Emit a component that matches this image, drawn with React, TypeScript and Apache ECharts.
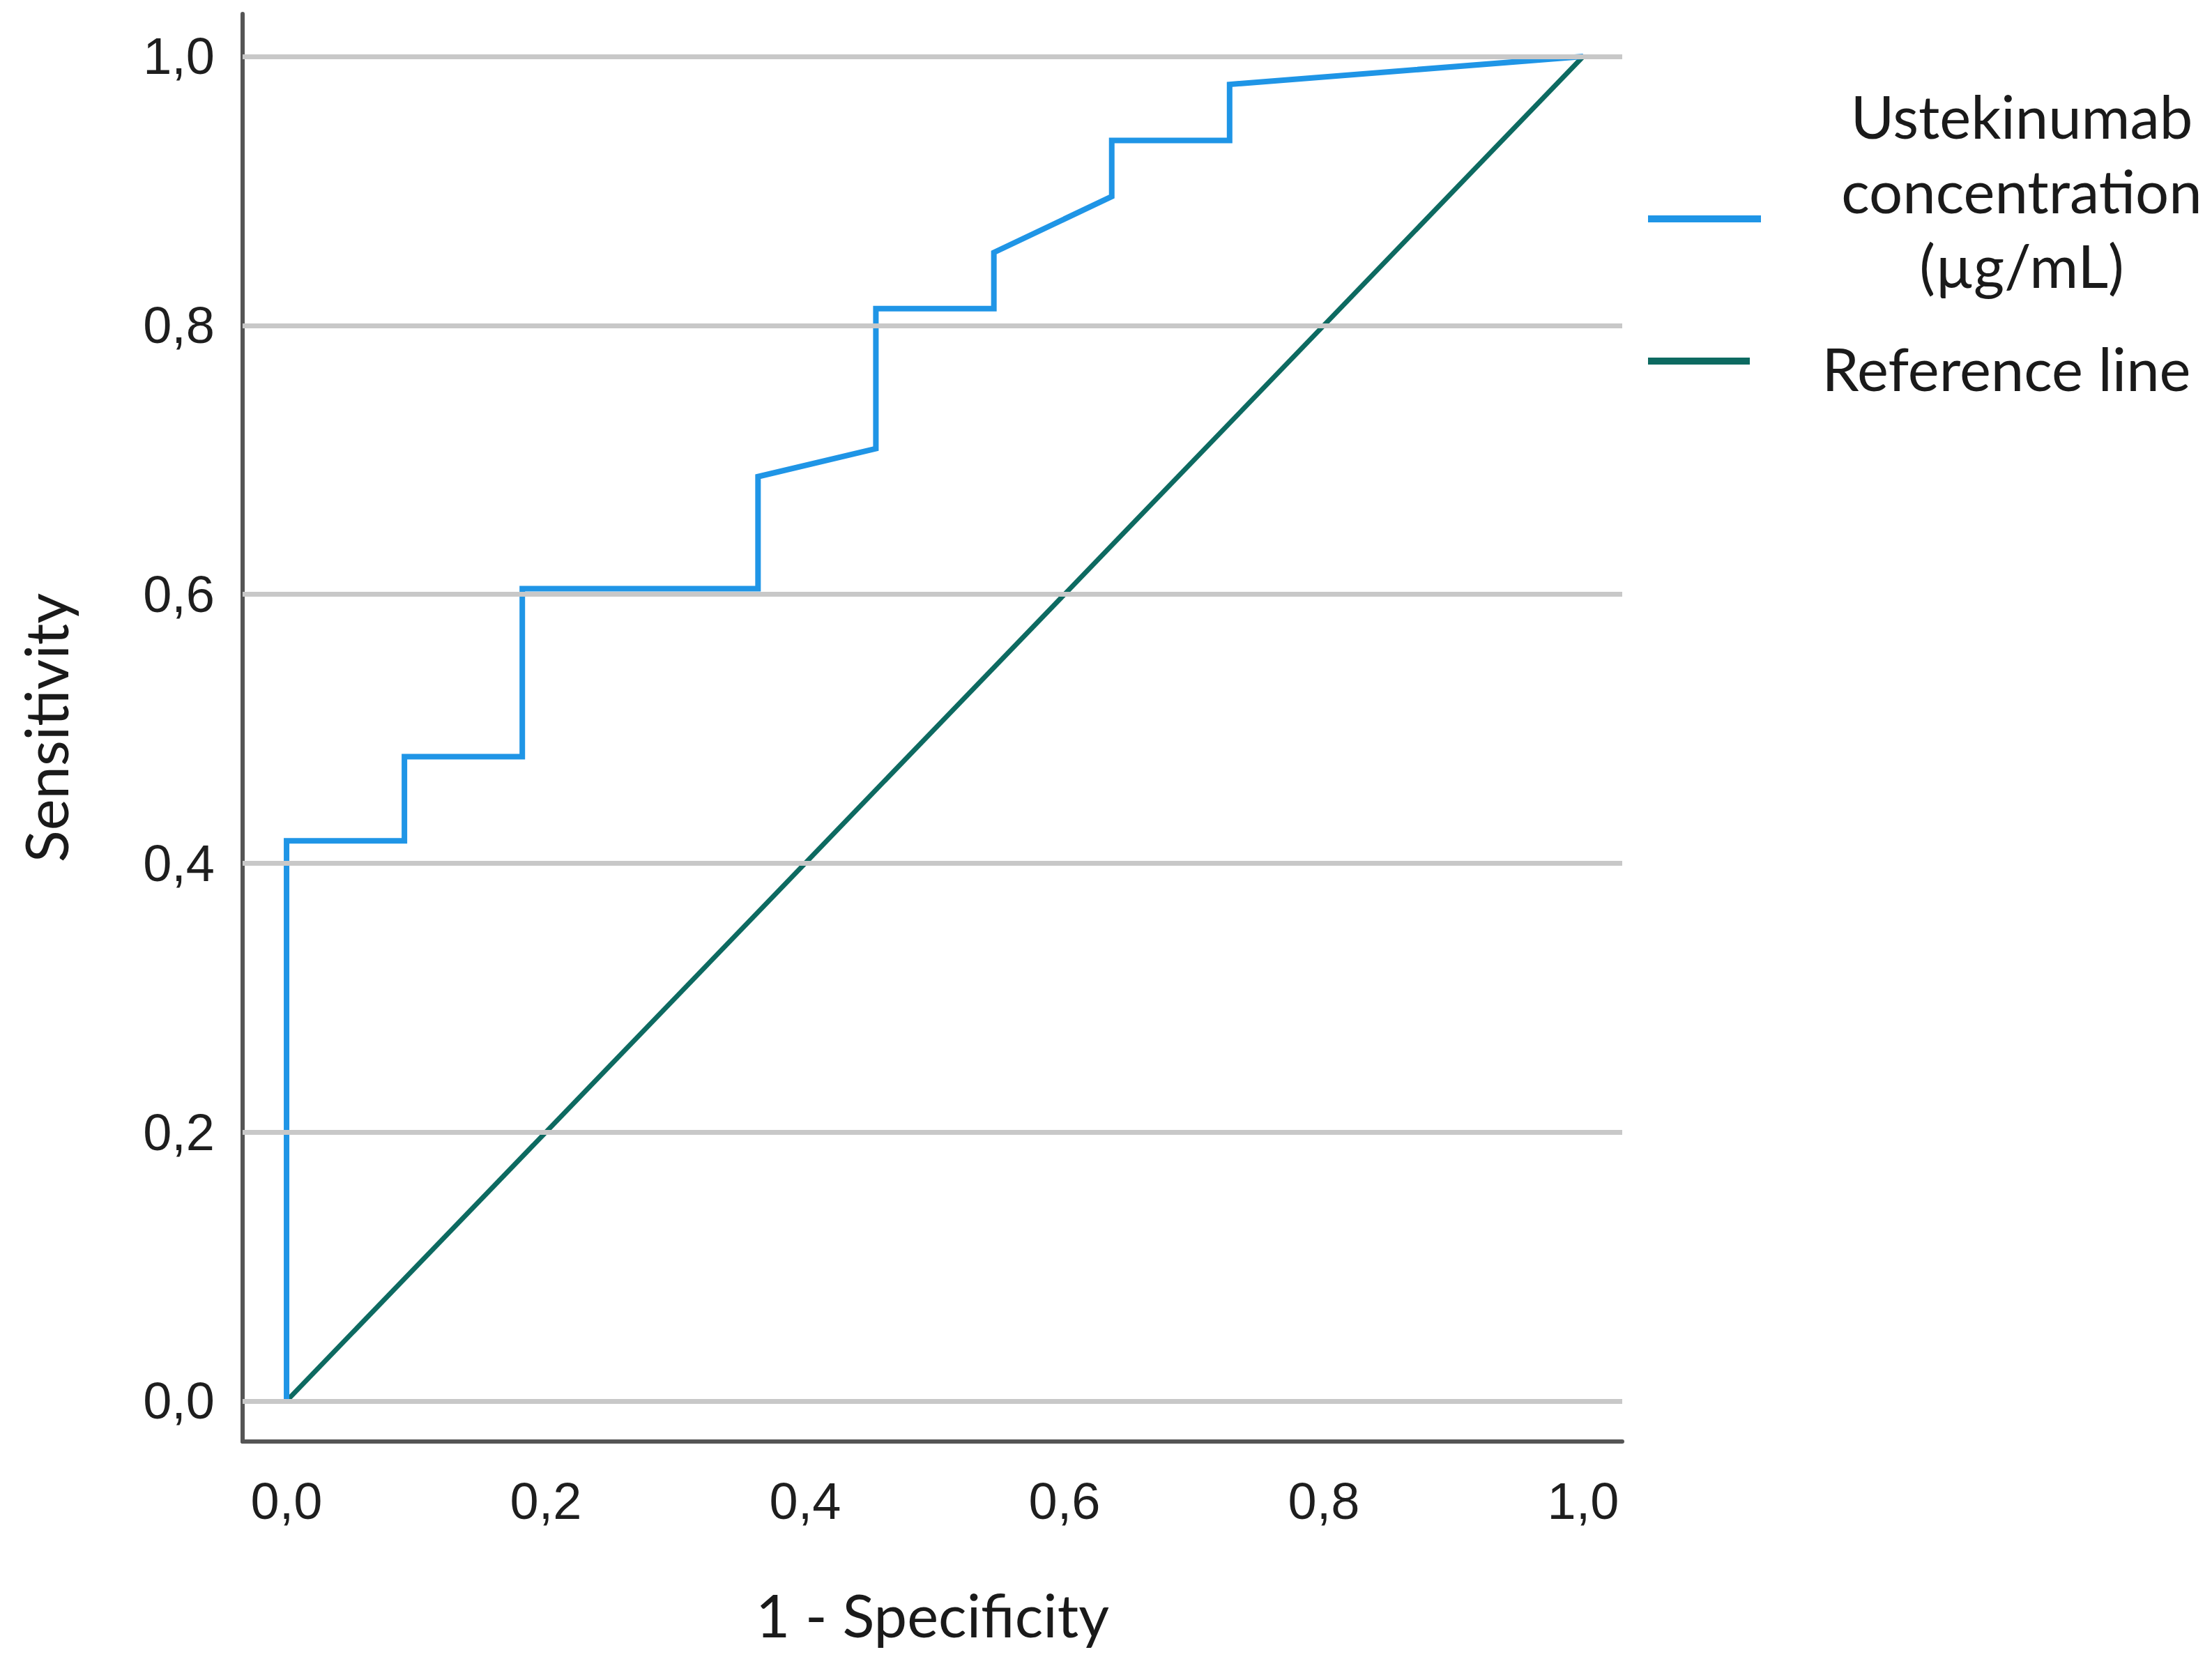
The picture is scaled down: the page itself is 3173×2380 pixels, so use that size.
import React, { useEffect, useRef } from "react";
import * as echarts from "echarts";

// ROC curve points (1 - specificity, sensitivity)
const rocFpr = [0, 0, 0.0909, 0.0909, 0.1818, 0.1818, 0.3636, 0.3636, 0.4545, 0.4545, 0.5455, 0.5455, 0.6364, 0.6364, 0.7273, 0.7273, 1.0];
const rocTpr = [0, 0.4167, 0.4167, 0.4792, 0.4792, 0.6042, 0.6042, 0.6875, 0.7083, 0.8125, 0.8125, 0.8542, 0.8958, 0.9375, 0.9375, 0.9792, 1.0];
const refX = [0, 1];
const refY = [0, 1];
const tickValues = [0, 0.2, 0.4, 0.6, 0.8, 1.0];
const seriesNames = ["Ustekinumab\nconcentration\n(µg/mL)", "Reference line"];

const BLUE = "#1f95e6";
const TEAL = "#0d6a61";

const fmt = (v: number) => {
  const ok = tickValues.some((t) => Math.abs(t - v) < 1e-6);
  return ok ? v.toFixed(1).replace(".", ",") : "";
};

export default function App() {
  const ref = useRef<HTMLDivElement>(null);
  useEffect(() => {
    document.body.style.margin = "0";
    const chart = echarts.init(ref.current!, null, { renderer: "svg" });
    const labelFont = { fontFamily: "Liberation Sans", fontSize: 74, color: "#1e1e1e" };
    const nameFont = { fontFamily: "Lato", fontSize: 85, color: "#1a1a1a" };
    chart.setOption({
      animation: false,
      backgroundColor: "#fff",
      grid: { left: 348, right: 846, top: 20, bottom: 312, containLabel: false, outerBoundsMode: "none" },
      xAxis: {
        type: "value",
        min: -0.0339,
        max: 1.0301,
        name: "1 - Specificity",
        nameLocation: "middle",
        nameGap: 205,
        nameTextStyle: nameFont,
        axisLine: { show: true, onZero: false, lineStyle: { color: "#555", width: 6 } },
        axisTick: { show: false },
        splitLine: { show: false },
        axisLabel: { ...labelFont, margin: 48, formatter: fmt },
      },
      yAxis: {
        type: "value",
        min: -0.0301,
        max: 1.0316,
        name: "Sensitivity",
        nameLocation: "middle",
        nameGap: 238,
        nameTextStyle: { ...nameFont, lineHeight: 90 },
        axisLine: { show: true, onZero: false, lineStyle: { color: "#555", width: 6 } },
        axisTick: { show: false },
        splitLine: { show: false },
        axisLabel: { ...labelFont, margin: 40, padding: [18, 0, 0, 0], formatter: fmt },
      },
      series: [
        {
          type: "line",
          name: "grid",
          data: [],
          z: 1,
          silent: true,
          markLine: {
            silent: true,
            symbol: "none",
            label: { show: false },
            lineStyle: { color: "#c8c8c8", width: 7, type: "solid" },
            data: tickValues.map((v) => ({ yAxis: v })),
          },
        },
        {
          type: "line",
          name: seriesNames[1],
          data: refX.map((x, i) => [x, refY[i]]),
          showSymbol: false,
          z: 3,
          lineStyle: { color: TEAL, width: 7 },
        },
        {
          type: "line",
          name: seriesNames[0],
          data: rocFpr.map((x, i) => [x, rocTpr[i]]),
          showSymbol: false,
          z: 4,
          lineStyle: { color: BLUE, width: 8, join: "miter" },
        },
      ],
      graphic: [
        { type: "line", shape: { x1: 2364, y1: 314, x2: 2526, y2: 314 }, style: { stroke: BLUE, lineWidth: 10 } },
        {
          type: "text",
          x: 2900,
          y: 273,
          style: {
            text: seriesNames[0],
            font: "85px Lato",
            fill: "#1a1a1a",
            align: "center",
            verticalAlign: "middle",
            lineHeight: 107,
          },
        },
        { type: "line", shape: { x1: 2364, y1: 518, x2: 2510, y2: 518 }, style: { stroke: TEAL, lineWidth: 10 } },
        {
          type: "text",
          x: 2878,
          y: 528,
          style: {
            text: seriesNames[1],
            font: "85px Lato",
            fill: "#1a1a1a",
            align: "center",
            verticalAlign: "middle",
          },
        },
      ],
    });
    return () => chart.dispose();
  }, []);
  return <div ref={ref} style={{ width: 3173, height: 2380 }} />;
}
